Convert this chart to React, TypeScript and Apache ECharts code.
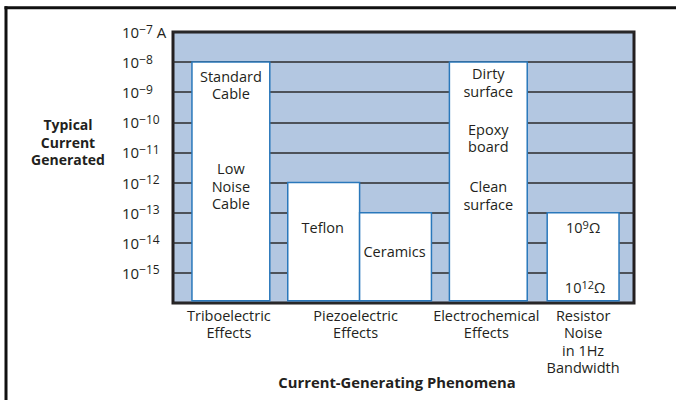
import React, { useEffect, useRef } from "react";
import * as echarts from "echarts";

// y axis: decades of current (exponent of 10, in amperes)
const yTickExponents = [-7, -8, -9, -10, -11, -12, -13, -14, -15, -16];
const yUnit = "A";
const floorExp = -16;
const ceilExp = -7;

// horizontal layout units (0..462 across the plot)
const xMin = 0;
const xMax = 462;

// white bars: [start, end, top exponent]
const barNames = ["Triboelectric", "Teflon", "Ceramics", "Electrochemical", "Resistor noise"];
const barStart = [19, 115, 187, 277, 375];
const barEnd = [97, 187, 259, 355, 447];
const barTopExp = [-8, -12, -13, -8, -13];

// labels inside bars
const innerLabels = [
  "Standard\nCable",
  "Low\nNoise\nCable",
  "Teflon",
  "Ceramics",
  "Dirty\nsurface",
  "Epoxy\nboard",
  "Clean\nsurface",
  "10^9Ω",
  "10^12Ω",
];
const innerLabelX = [58, 58, 150, 222, 316, 316, 316, 411, 413];
const innerLabelExp = [-8.77, -12.12, -13.5, -14.3, -8.68, -10.52, -12.43, -13.49, -15.47];

// phenomena group labels below the plot
const groupLabels = [
  "Triboelectric\nEffects",
  "Piezoelectric\nEffects",
  "Electrochemical\nEffects",
  "Resistor\nNoise\nin 1Hz\nBandwidth",
];
const groupX = [56, 183, 314, 411];

const yTitle = "Typical\nCurrent\nGenerated";
const xTitle = "Current-Generating Phenomena";

const FONT = "'Open Sans', 'Noto Sans', sans-serif";
const INK = "#231f20";

function toRich(s: string): string {
  const m = s.match(/^(.*?)\^(\d+)(.*)$/);
  if (!m) return s;
  return `{n|${m[1]}}{s|${m[2]}}{n|${m[3]}}`;
}

export default function App() {
  const ref = useRef<HTMLDivElement>(null);
  useEffect(() => {
    if (!ref.current) return;
    const chart = echarts.init(ref.current, null, { renderer: "svg" });

    const barData = barStart.map((s, i) => ({ name: barNames[i], value: [s, barEnd[i], barTopExp[i]] }));
    const innerData = innerLabelX.map((x, i) => [x, innerLabelExp[i]]);
    const groupData = groupX.map((x) => [x, floorExp]);

    const option: any = {
      animation: false,
      backgroundColor: "#ffffff",
      grid: {
        left: 173,
        right: 42,
        top: 32,
        bottom: 97,
        show: true,
        backgroundColor: "#b3c7e1",
        borderColor: "#231f20",
        borderWidth: 3,
      },
      xAxis: {
        type: "value",
        min: xMin,
        max: xMax,
        axisLine: { show: false },
        axisTick: { show: false },
        axisLabel: { show: false },
        splitLine: { show: false },
      },
      yAxis: {
        type: "value",
        min: floorExp,
        max: ceilExp,
        interval: 1,
        axisLine: { show: false },
        axisTick: { show: false },
        splitLine: { show: true, lineStyle: { color: "#2b2b2b", width: 1.5 } },
        axisLabel: {
          align: "left",
          margin: 51,
          formatter: (v: number) => {
            const e = Math.round(v);
            if (!yTickExponents.includes(e) || e === floorExp) return "";
            const s = `{b|10}{s|\u2212${-e}}`;
            return e === ceilExp ? `${s}{b| ${yUnit}}` : s;
          },
          rich: {
            b: { fontSize: 15, fontFamily: FONT, color: INK, lineHeight: 18 },
            s: { fontSize: 12, fontFamily: FONT, color: INK, verticalAlign: "top", lineHeight: 12 },
          },
        },
      },
      graphic: [
        { type: "line", shape: { x1: 4.5, y1: 7.8, x2: 676, y2: 7.8 }, style: { stroke: "#111", lineWidth: 3 } },
        { type: "line", shape: { x1: 6, y1: 6.3, x2: 6, y2: 400 }, style: { stroke: "#111", lineWidth: 3 } },
        {
          type: "text",
          x: 68,
          y: 142,
          style: {
            text: yTitle,
            fontFamily: FONT,
            fontSize: 14,
            fontWeight: "bold",
            fill: INK,
            align: "center",
            verticalAlign: "middle",
            lineHeight: 17.2,
          },
        },
        {
          type: "text",
          x: 397,
          y: 382,
          style: {
            text: xTitle,
            fontFamily: FONT,
            fontSize: 14.8,
            fontWeight: "bold",
            fill: INK,
            align: "center",
            verticalAlign: "middle",
          },
        },
      ],
      series: [
        {
          type: "custom",
          name: "bars",
          encode: { x: [0, 1], y: 2 },
          data: barData,
          z: 3,
          renderItem: (params: any, api: any) => {
            const p0 = api.coord([api.value(0), api.value(2)]);
            const p1 = api.coord([api.value(1), floorExp]);
            return {
              type: "rect",
              shape: { x: p0[0], y: p0[1], width: p1[0] - p0[0], height: p1[1] - p0[1] - 2.2 },
              style: { fill: "#ffffff", stroke: "#2a78bb", lineWidth: 1.5 },
            };
          },
        },
        {
          type: "custom",
          name: "inner labels",
          data: innerData,
          z: 4,
          renderItem: (params: any, api: any) => {
            const p = api.coord([api.value(0), api.value(1)]);
            return {
              type: "text",
              x: p[0],
              y: p[1],
              style: {
                text: toRich(innerLabels[params.dataIndex]),
                fontSize: 14.5,
                fontFamily: FONT,
                fill: INK,
                lineHeight: 17.2,
                align: "center",
                verticalAlign: "middle",
                rich: {
                  n: { fontSize: 14.5, fontFamily: FONT, fill: INK, color: INK, lineHeight: 17 },
                  s: { fontSize: 11, fontFamily: FONT, fill: INK, color: INK, lineHeight: 11, verticalAlign: "top" },
                },
              },
            };
          },
        },
        {
          type: "custom",
          name: "group labels",
          data: groupData,
          z: 4,
          clip: false,
          renderItem: (params: any, api: any) => {
            const p = api.coord([api.value(0), api.value(1)]);
            return {
              type: "text",
              x: p[0],
              y: p[1] + 3.5,
              style: {
                text: groupLabels[params.dataIndex],
                fontFamily: FONT,
                fontSize: 14.5,
                fill: INK,
                align: "center",
                verticalAlign: "top",
                lineHeight: 17.5,
              },
            };
          },
        },
      ],
    };
    chart.setOption(option);
    return () => chart.dispose();
  }, []);
  return (
    <div
      ref={ref}
      style={{ position: "fixed", left: 0, top: 0, width: 676, height: 400, background: "#fff" }}
    />
  );
}
